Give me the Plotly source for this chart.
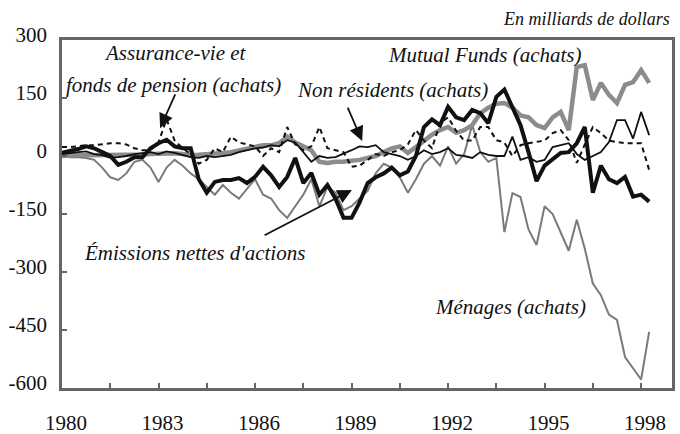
import plotly.graph_objects as go

# Quarterly periods 1980Q1 .. 1998Q2 (decimal years)
quarters = [1980 + q / 4 for q in range(74)]

emissions = [8, 12, 18, 25, 20, 10, 0, -23, -15, -3,
             -3, 20, 33, 42, 25, 20, 20, -60, -95, -67,
             -62, -62, -57, -70, -54, -28, -50, -80, -54, -5,
             -70, -44, -100, -75, -110, -160, -160, -120, -70, -55,
             -45, -30, -50, -40, 0, 75, 95, 80, 127, 100,
             93, 119, 111, 85, 153, 172, 125, 80, 10, -65,
             -25, -8, 8, 10, 33, 75, -95, -25, -60, -70,
             -54, -105, -100, -118]

mutual_funds = [0, 2, 3, 2, 2, 3, 4, 3, 2, 3,
                4, 5, 6, 8, 7, 5, 2, 3, 4, 5,
                8, 10, 15, 20, 25, 28, 28, 33, 50, 35,
                25, 15, -15, -18, -15, -15, -12, -10, -5, 0,
                10, 20, 25, 8, 23, 40, 55, 67, 75, 60,
                67, 80, 110, 125, 135, 137, 125, 105, 100, 80,
                72, 100, 114, 67, 230, 235, 145, 189, 158, 137,
                184, 191, 222, 189]

non_residents = [5, 8, 10, 12, 5, 2, -5, -3, 0, 5,
                 8, 10, 5, 12, 8, 3, -3, -5, 0, -3,
                 0, 3, 10, 15, 20, 22, 28, 25, 41, 35,
                 10, -15, 0, -5, -3, 5, 15, 25, 23, 28,
                 10, 5, 0, -10, 0, 15, 5, 10, 20, 3,
                 0, -5, 10, 3, 0, 0, 50, -10, -3, -15,
                 -10, 23, 28, 33, 5, -10, 0, 10, 36, 93,
                 93, 45, 114, 54]

assurance = [23, 23, 25, 28, 28, 30, 33, 33, 30, 20,
             15, 15, 35, 95, 40, 20, 5, -20, -10, 20,
             10, 50, 35, 30, 25, 0, 20, 10, 75, 30,
             15, 25, 75, 20, 15, 10, -28, -25, -10, 5,
             0, 10, 15, 30, 67, 40, 20, 85, 100, 65,
             40, 40, 75, 75, 41, 35, 0, 28, 33, 36,
             40, 59, 67, 41, -18, 30, 75, 59, 40, 36,
             33, 33, 33, -36]

menages = [0, -3, -3, -5, -10, -30, -55, -62, -45, -15,
           -10, -30, -67, -30, -10, -25, -45, -60, -80, -100,
           -75, -95, -110, -85, -60, -100, -110, -140, -160, -130,
           -100, -60, -130, -80, -95, -140, -130, -110, -90, -45,
           -20, -30, -55, -95, -60, -20, 0, -25, 25, -20,
           5, 80, 10, -15, -5, -197, -96, -106, -190, -230,
           -130, -150, -200, -245, -165, -240, -330, -360, -410, -424,
           -520, -548, -578, -455]

x_tickvals = [1980, 1981.5, 1983, 1984.5, 1986, 1987.5, 1989, 1990.5,
              1992, 1993.5, 1995, 1996.5, 1998]
x_ticktext = ["1980", "", "1983", "", "1986", "", "1989", "",
              "1992", "", "1995", "", "1998"]
y_tickvals = [-600, -450, -300, -150, 0, 150, 300]
y_ticktext = ["-600", "-450", "-300", "-150", "0", "150", "300"]

SERIF = "Liberation Serif, serif"
FRAME = "#666666"
INK = "#111111"

fig = go.Figure()
fig.add_trace(go.Scatter(x=quarters, y=menages, mode="lines",
                         line=dict(color="#7a7a7a", width=2), name="Ménages"))
fig.add_trace(go.Scatter(x=quarters, y=mutual_funds, mode="lines",
                         line=dict(color="#8c8c8c", width=4.5), name="Mutual Funds"))
fig.add_trace(go.Scatter(x=quarters, y=assurance, mode="lines",
                         line=dict(color=INK, width=2, dash="5px,4px"),
                         name="Assurance-vie"))
fig.add_trace(go.Scatter(x=quarters, y=non_residents, mode="lines",
                         line=dict(color=INK, width=1.8), name="Non résidents"))
fig.add_trace(go.Scatter(x=quarters, y=emissions, mode="lines",
                         line=dict(color=INK, width=4), name="Émissions"))

ann_font = dict(family=SERIF, size=21, color=INK, style="italic")
texts = [
    ("Assurance-vie et", 1983.54, 266),
    ("fonds de pension (achats)", 1983.48, 184),
    ("Non résidents (achats)", 1990.26, 171),
    ("Mutual Funds (achats)", 1993.12, 261),
    ("Émissions nettes d'actions", 1984.13, -251),
    ("Ménages (achats)", 1993.93, -390),
]
annotations = []
for t, x, y in texts:
    annotations.append(dict(text=t, x=x, y=y, xref="x", yref="y",
                            showarrow=False, font=ann_font,
                            xanchor="center", yanchor="middle"))

arrows = [
    ((1983.54, 163), (1983.05, 72)),
    ((1988.86, 129), (1989.33, 39)),
    ((1986.25, -207), (1989.01, -88)),
]
for (tx, ty), (hx, hy) in arrows:
    annotations.append(dict(x=hx, y=hy, ax=tx, ay=ty, xref="x", yref="y",
                            axref="x", ayref="y", showarrow=True, text="",
                            arrowhead=2, arrowsize=1.6, arrowwidth=1.8,
                            arrowcolor=INK))

annotations.append(dict(text="En milliards de dollars", x=1, y=1.06,
                        xref="paper", yref="paper", xanchor="right",
                        yanchor="middle", showarrow=False,
                        font=dict(family=SERIF, size=18, color=INK,
                                  style="italic")))

fig.update_layout(
    width=680, height=434,
    margin=dict(l=62, r=8, t=40, b=46, autoexpand=False),
    paper_bgcolor="white", plot_bgcolor="white",
    showlegend=False,
    font=dict(family=SERIF, size=21, color=INK),
    annotations=annotations,
    xaxis=dict(range=[1980, 1998.96], tickmode="array",
               tickvals=x_tickvals, ticktext=x_ticktext,
               ticks="inside", ticklen=5, tickwidth=1.5, tickcolor=FRAME,
               showline=True, linecolor=FRAME, linewidth=2.5, mirror=True,
               showgrid=False, zeroline=False, automargin=False,
               ticklabelstandoff=14, ticklabelshift=4,
               tickfont=dict(family=SERIF, size=21, color=INK)),
    yaxis=dict(range=[-600, 300], tickmode="array",
               tickvals=y_tickvals, ticktext=y_ticktext,
               ticks="inside", ticklen=5, tickwidth=1.5, tickcolor=FRAME,
               showline=True, linecolor=FRAME, linewidth=2.5, mirror=True,
               showgrid=False, zeroline=False, automargin=False,
               ticklabelstandoff=8, ticklabelshift=-5,
               tickfont=dict(family=SERIF, size=21, color=INK)),
)

fig.write_html("out.html", config={"displayModeBar": False},
               post_script="document.body.style.margin='0';"
                           "document.body.style.overflow='hidden';")
